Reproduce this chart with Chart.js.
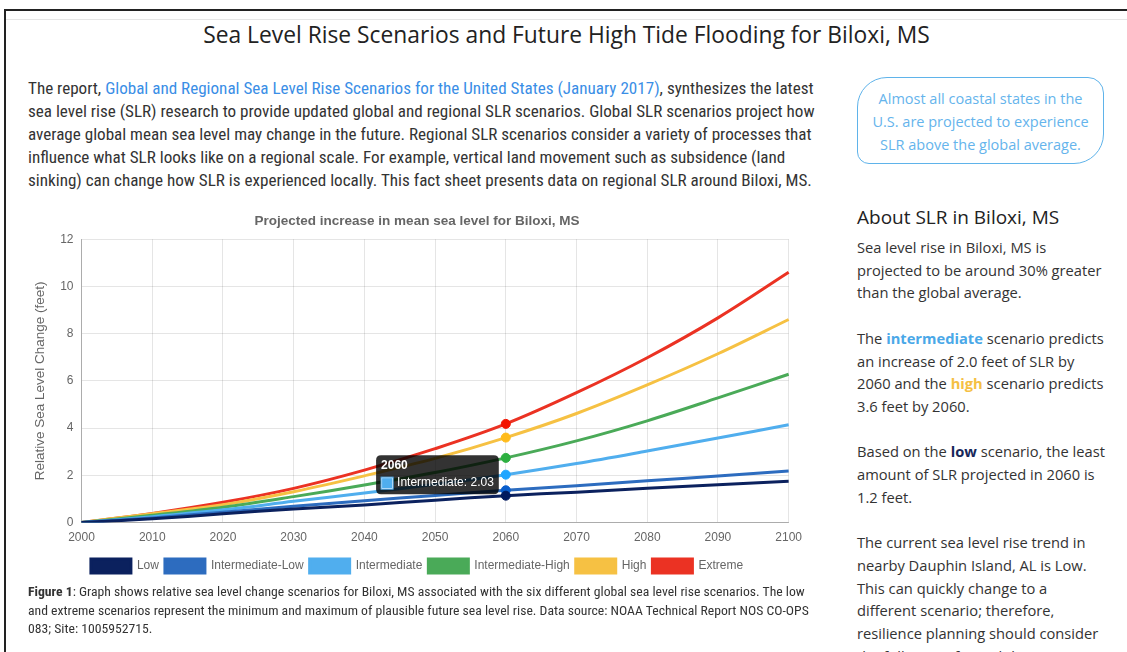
<!DOCTYPE html>
<html>
<head>
<meta charset="utf-8">
<script src="https://cdn.jsdelivr.net/npm/chart.js@4.4.1/dist/chart.umd.min.js"></script>
<style>
  html, body { margin: 0; padding: 0; background: #fff; width: 1127px; height: 652px; overflow: hidden; }
  body { position: relative; font-family: "Open Sans", "Noto Sans", sans-serif; color: #333; }
  .frame { position: absolute; left: 4px; top: 9px; width: 1200px; height: 700px; border-top: 2px solid #222; border-left: 2px solid #222; }
  .frame2 { position: absolute; left: 6px; top: 19px; width: 1200px; height: 0; border-top: 1px solid #e6e6e6; }
  h1 { position: absolute; left: 0; width: 1133px; top: 19px; margin: 0; text-align: center; font-weight: 400; font-size: 22.8px; line-height: 32px; color: #222; white-space: nowrap; }
  .intro { position: absolute; left: 28px; top: 77px; width: 800px; font-family: "Liberation Sans Narrow", "Roboto Condensed", "Roboto", sans-serif; font-size: 17.1px; line-height: 23px; color: #333; white-space: nowrap; }
  .intro a { color: #3a8ee6; text-decoration: none; }
  .callout { position: absolute; left: 857px; top: 77px; width: 247px; height: 87px; border: 1px solid #5fb3ea; border-radius: 30px 16px 30px 12px; color: #65b4ec; font-size: 14.5px; line-height: 23px; text-align: center; box-sizing: border-box; padding-top: 9px; white-space: nowrap; }
  .side { position: absolute; left: 857px; top: 203px; width: 270px; white-space: nowrap; }
  .side h2 { margin: 0; font-size: 19px; font-weight: 500; line-height: 28px; color: #222; }
  .side p { margin: 0 0 22.7px 0; font-size: 14.7px; line-height: 22.7px; color: #333; }
  .side .sp { margin-top: 5px; }
  .bi { color: #4aa8e8; font-weight: 700; }
  .bh { color: #f5c043; font-weight: 700; }
  .bl { color: #16275a; font-weight: 700; }
  .chartbox { position: absolute; left: 28px; top: 204px; width: 782px; height: 379px; }
  .caption { position: absolute; left: 28px; top: 582px; width: 800px; font-family: "Liberation Sans Narrow", "Roboto Condensed", "Roboto", sans-serif; font-size: 13.7px; line-height: 18.5px; color: #333; white-space: nowrap; }
</style>
</head>
<body>
<div class="frame"></div>
<div class="frame2"></div>
<h1>Sea Level Rise Scenarios and Future High Tide Flooding for Biloxi, MS</h1>
<div class="intro">
The report, <a href="#">Global and Regional Sea Level Rise Scenarios for the United States (January 2017)</a>, synthesizes the latest<br>
sea level rise (SLR) research to provide updated global and regional SLR scenarios. Global SLR scenarios project how<br>
average global mean sea level may change in the future. Regional SLR scenarios consider a variety of processes that<br>
influence what SLR looks like on a regional scale. For example, vertical land movement such as subsidence (land<br>
sinking) can change how SLR is experienced locally. This fact sheet presents data on regional SLR around Biloxi, MS.
</div>
<div class="callout">Almost all coastal states in the<br>U.S. are projected to experience<br>SLR above the global average.</div>
<div class="side">
  <h2>About SLR in Biloxi, MS</h2>
  <p class="sp">Sea level rise in Biloxi, MS is<br>projected to be around 30% greater<br>than the global average.</p>
  <p>The <span class="bi">intermediate</span> scenario predicts<br>an increase of 2.0 feet of SLR by<br>2060 and the <span class="bh">high</span> scenario predicts<br>3.6 feet by 2060.</p>
  <p>Based on the <span class="bl">low</span> scenario, the least<br>amount of SLR projected in 2060 is<br>1.2 feet.</p>
  <p>The current sea level rise trend in<br>nearby Dauphin Island, AL is Low.<br>This can quickly change to a<br>different scenario; therefore,<br>resilience planning should consider<br>the full suite of possibilities.</p>
</div>
<div class="chartbox"><canvas id="c"></canvas></div>
<div class="caption"><b>Figure 1</b>: Graph shows relative sea level change scenarios for Biloxi, MS associated with the six different global sea level rise scenarios. The low<br>and extreme scenarios represent the minimum and maximum of plausible future sea level rise. Data source: NOAA Technical Report NOS CO-OPS<br>083; Site: 1005952715.</div>
<script>
const years = ['2000','2010','2020','2030','2040','2050','2060','2070','2080','2090','2100'];
const yTicks = [0, 2, 4, 6, 8, 10, 12];
const low          = [0, 0.16, 0.37, 0.58, 0.75, 0.95, 1.14, 1.29, 1.45, 1.60, 1.75];
const intLow       = [0, 0.20, 0.44, 0.69, 0.93, 1.15, 1.37, 1.56, 1.77, 1.97, 2.18];
const intermediate = [0, 0.25, 0.54, 0.90, 1.25, 1.62, 2.03, 2.50, 3.03, 3.58, 4.14];
const intHigh      = [0, 0.31, 0.65, 1.10, 1.59, 2.12, 2.74, 3.46, 4.31, 5.28, 6.28];
const high         = [0, 0.38, 0.76, 1.31, 1.98, 2.72, 3.60, 4.62, 5.83, 7.15, 8.60];
const extreme      = [0, 0.39, 0.86, 1.45, 2.22, 3.13, 4.18, 5.50, 6.98, 8.67, 10.60];
const seriesNames  = ['Low','Intermediate-Low','Intermediate','Intermediate-High','High','Extreme'];
const seriesColors = ['#0b215e','#2d6cbf','#50aeee','#4aaa58','#f6c143','#eb3223'];
const seriesData   = [low, intLow, intermediate, intHigh, high, extreme];
const highlightYear = '2060';
const tooltipSeries = 2;

const hi = years.indexOf(highlightYear);
Chart.defaults.font.family = "'Liberation Sans', Arial, sans-serif";
Chart.defaults.color = '#666';

const chart = new Chart(document.getElementById('c'), {
  type: 'line',
  data: {
    labels: years,
    datasets: seriesData.map((d, i) => ({
      label: seriesNames[i],
      data: d,
      borderColor: seriesColors[i],
      backgroundColor: seriesColors[i],
      borderWidth: 3,
      fill: false,
      tension: 0.35,
      pointRadius: ctx => ctx.dataIndex === hi ? 4.5 : 0,
      pointHoverRadius: ctx => ctx.dataIndex === hi ? 4.5 : 0,
      pointBorderWidth: 1
    }))
  },
  options: {
    responsive: true,
    maintainAspectRatio: false,
    animation: false,
    events: [],
    layout: { padding: { left: 0, right: 4, top: 0, bottom: 0 } },
    plugins: {
      title: { display: true, text: 'Projected increase in mean sea level for Biloxi, MS', font: { size: 13.5, weight: 'bold' }, color: '#666', padding: { top: 9, bottom: 10 } },
      legend: {
        position: 'bottom',
        labels: { boxWidth: 40, boxHeight: 14, font: { size: 12 }, color: '#666', padding: 6 }
      },
      tooltip: {
        enabled: true,
        mode: 'nearest',
        backgroundColor: 'rgba(0,0,0,0.8)',
        titleFont: { size: 12, weight: 'bold', lineHeight: 1.0 },
        bodyFont: { size: 12, lineHeight: 1.0 },
        titleMarginBottom: 5,
        padding: 5,
        caretSize: 0,
        caretPadding: 7,
        cornerRadius: 5,
        boxWidth: 12,
        boxHeight: 12,
        boxPadding: 2,
        callbacks: {
          label: ctx => ctx.dataset.label + ': ' + ctx.parsed.y.toFixed(2)
        }
      }
    },
    scales: {
      x: {
        type: 'category',
        offset: false,
        grid: { color: 'rgba(0,0,0,0.1)', drawTicks: false },
        border: { color: 'rgba(0,0,0,0.25)' },
        ticks: { font: { size: 12 }, color: '#666', padding: 8, maxRotation: 0 }
      },
      y: {
        min: 0, max: 12,
        afterBuildTicks: s => { s.ticks = yTicks.map(v => ({ value: v })); },
        grid: { color: 'rgba(0,0,0,0.1)', drawTicks: false },
        border: { color: 'rgba(0,0,0,0.25)' },
        ticks: { font: { size: 12 }, color: '#666', padding: 8 },
        title: { display: true, text: 'Relative Sea Level Change (feet)', font: { size: 13.5 }, color: '#666', padding: { top: 4, bottom: 4 } }
      }
    }
  }
});

const meta = chart.getDatasetMeta(tooltipSeries);
const pt = meta.data[hi];
chart.tooltip.setActiveElements([{ datasetIndex: tooltipSeries, index: hi }], { x: pt.x, y: pt.y });
chart.setActiveElements(seriesData.map((d, i) => ({ datasetIndex: i, index: hi })));
chart.update();
</script>
</body>
</html>
